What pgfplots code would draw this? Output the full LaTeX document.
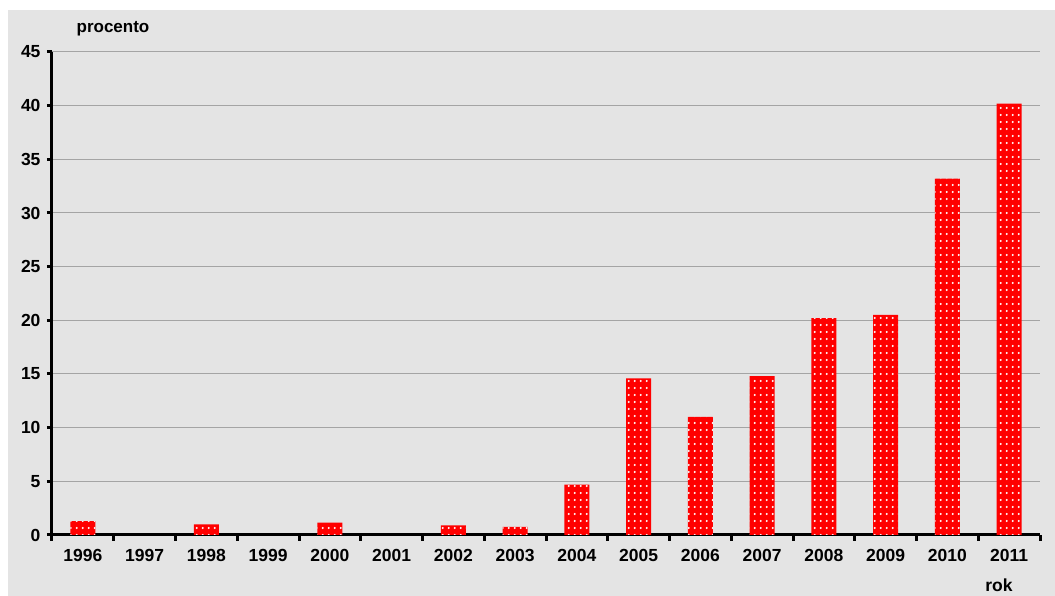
\documentclass[border=0pt]{standalone}
\usepackage{pgfplots}
\pgfplotsset{compat=1.18}
\usepackage{fontspec}
\setmainfont{Liberation Sans}
\usetikzlibrary{patterns.meta}
\definecolor{bg}{HTML}{E4E4E4}
\definecolor{gridc}{HTML}{A4A4A4}
\tikzdeclarepattern{
  name=wdots,
  type=uncolored,
  bottom left={(0pt,0pt)},
  top right={(6.2pt,6.5pt)},
  tile size={(6.2pt,6.5pt)},
  code={\fill (3.1pt,3.25pt) circle (1.15pt);}
}
\begin{document}
\begin{tikzpicture}[x=1pt,y=1pt]
\fill[white] (0,0) rectangle (1055,596);
\fill[bg] (8,0) rectangle (1055,586);
\begin{axis}[
  at={(52pt,61pt)}, anchor=south west,
  scale only axis, width=988pt, height=483pt,
  xmin=-0.5, xmax=15.5, ymin=0, ymax=45,
  ytick={0,5,...,45},
  xtick={0,...,15},
  xticklabels={1996,1997,1998,1999,2000,2001,2002,2003,2004,2005,2006,2007,2008,2009,2010,2011},
  minor xtick={-0.5,0.5,...,15.5},
  major x tick style={draw=none},
  axis x line*=bottom, axis y line*=left,
  axis line style={-, line width=3pt, black},
  tick style={line width=3pt, black},
  tick align=outside,
  major tick length=5pt, minor tick length=6pt,
  ymajorgrids, grid style={gridc, line width=1pt},
  /pgf/number format/assume math mode=true,
  tick label style={font=\fontsize{17.5}{20}\selectfont\bfseries},
  xticklabel style={yshift=-6pt},
  yticklabel style={xshift=-3pt},
]
\addplot[ybar, bar width=25pt, fill=red, draw=none,
  postaction={pattern={wdots}, pattern color=white}]
  coordinates {(0,1.3) (2,1.0) (4,1.15) (6,0.9) (7,0.75) (8,4.7) (9,14.6) (10,11.0) (11,14.8) (12,20.2) (13,20.5) (14,33.2) (15,40.2)};
\end{axis}
\node[font=\fontsize{17}{19}\selectfont\bfseries] at (113,567) {procento};
\node[font=\fontsize{17.5}{19}\selectfont\bfseries] at (999,11) {rok};
\end{tikzpicture}
\end{document}
